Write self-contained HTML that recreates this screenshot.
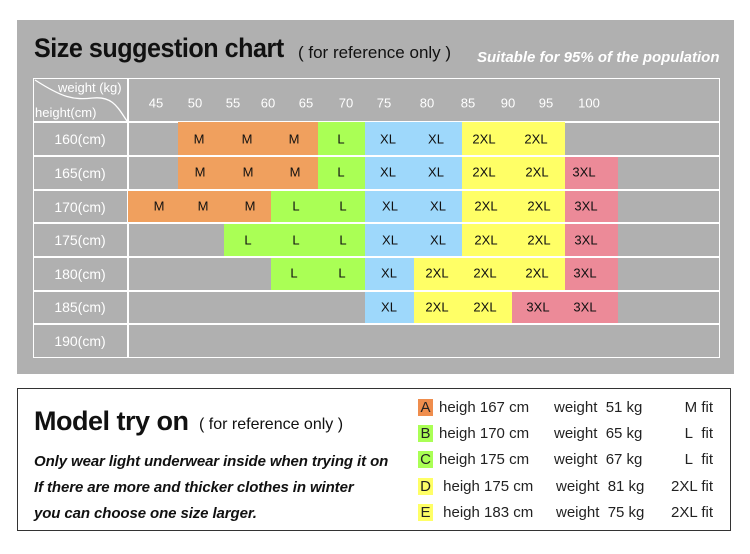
<!DOCTYPE html>
<html><head><style>
body{margin:0;width:750px;height:554px;background:#fff;position:relative;overflow:hidden;font-family:"Liberation Sans","DejaVu Sans",sans-serif}
.a{position:absolute}
.c{position:absolute;transform:translate(-50%,-50%);font-size:13px;color:#111;white-space:nowrap}
.w{color:#fff;font-size:13px}
.hl{position:absolute;left:33px;width:686px;height:1.5px;background:#fff}
.r{position:absolute;color:#fff;font-size:14px;width:94px;text-align:center;left:33px}
.L{position:absolute;font-size:15px;color:#222;white-space:nowrap}
.bx{display:inline-block;width:15px;height:17px;text-align:center;line-height:17px;margin-right:6px}
</style></head><body>
<div class="a" style="left:17px;top:20px;width:717px;height:354px;background:#b0b0b0"></div>
<div class="a" style="left:34px;top:33px;font-size:27px;font-weight:bold;color:#111;letter-spacing:-0.5px;transform:scaleX(0.93);transform-origin:0 0">Size suggestion chart</div>
<div class="a" style="left:298px;top:43px;font-size:17px;color:#111">( for reference only )</div>
<div class="a" style="left:477px;top:49px;font-size:15px;font-style:italic;font-weight:bold;color:#fff">Suitable for 95% of the population</div>
<div class="a" style="left:33px;top:78px;width:685px;height:278px;border:1.5px solid #fff"></div>
<div class="a" style="left:127px;top:78px;width:1.5px;height:280px;background:#fff"></div>
<div class="hl" style="top:121px"></div>
<svg class="a" style="left:33px;top:78px" width="95" height="44"><path d="M2 2 C30 20,40 22,60 20 S85 30,94 43" stroke="#fff" stroke-width="1.3" fill="none"/></svg>
<div class="a w" style="left:58px;top:80px">weight (kg)</div>
<div class="a w" style="left:35px;top:105px">height(cm)</div>
<div class="a" style="left:178px;top:122px;width:140px;height:67px;background:#f0a05e"></div>
<div class="a" style="left:128px;top:190px;width:143px;height:32px;background:#f0a05e"></div>
<div class="a" style="left:318px;top:122px;width:47px;height:67px;background:#aaff55"></div>
<div class="a" style="left:271px;top:190px;width:94px;height:32px;background:#aaff55"></div>
<div class="a" style="left:224px;top:223px;width:141px;height:33px;background:#aaff55"></div>
<div class="a" style="left:271px;top:257px;width:94px;height:33px;background:#aaff55"></div>
<div class="a" style="left:365px;top:122px;width:97px;height:134px;background:#9ed8fb"></div>
<div class="a" style="left:365px;top:257px;width:49px;height:66px;background:#9ed8fb"></div>
<div class="a" style="left:462px;top:122px;width:103px;height:134px;background:#ffff66"></div>
<div class="a" style="left:414px;top:257px;width:151px;height:33px;background:#ffff66"></div>
<div class="a" style="left:414px;top:291px;width:98px;height:32px;background:#ffff66"></div>
<div class="a" style="left:565px;top:156px;width:53px;height:134px;background:#ec8a98"></div>
<div class="a" style="left:512px;top:291px;width:106px;height:32px;background:#ec8a98"></div>
<div class="hl" style="top:155px"></div><div class="hl" style="top:189px"></div><div class="hl" style="top:222px"></div><div class="hl" style="top:256px"></div><div class="hl" style="top:290px"></div><div class="hl" style="top:323px"></div>
<div class="c w" style="left:156px;top:103px">45</div><div class="c w" style="left:195px;top:103px">50</div><div class="c w" style="left:233px;top:103px">55</div><div class="c w" style="left:268px;top:103px">60</div><div class="c w" style="left:306px;top:103px">65</div><div class="c w" style="left:346px;top:103px">70</div><div class="c w" style="left:384px;top:103px">75</div><div class="c w" style="left:427px;top:103px">80</div><div class="c w" style="left:468px;top:103px">85</div><div class="c w" style="left:508px;top:103px">90</div><div class="c w" style="left:546px;top:103px">95</div><div class="c w" style="left:589px;top:103px">100</div>
<div class="r" style="top:131px">160(cm)</div><div class="r" style="top:165px">165(cm)</div><div class="r" style="top:199px">170(cm)</div><div class="r" style="top:232px">175(cm)</div><div class="r" style="top:266px">180(cm)</div><div class="r" style="top:299px">185(cm)</div><div class="r" style="top:333px">190(cm)</div>
<div class="c" style="left:199px;top:139px">M</div><div class="c" style="left:247px;top:139px">M</div><div class="c" style="left:294px;top:139px">M</div><div class="c" style="left:341px;top:139px">L</div><div class="c" style="left:388px;top:139px">XL</div><div class="c" style="left:436px;top:139px">XL</div><div class="c" style="left:484px;top:139px">2XL</div><div class="c" style="left:536px;top:139px">2XL</div>
<div class="c" style="left:200px;top:172px">M</div><div class="c" style="left:248px;top:172px">M</div><div class="c" style="left:295px;top:172px">M</div><div class="c" style="left:341px;top:172px">L</div><div class="c" style="left:388px;top:172px">XL</div><div class="c" style="left:436px;top:172px">XL</div><div class="c" style="left:484px;top:172px">2XL</div><div class="c" style="left:537px;top:172px">2XL</div><div class="c" style="left:584px;top:172px">3XL</div>
<div class="c" style="left:159px;top:206px">M</div><div class="c" style="left:203px;top:206px">M</div><div class="c" style="left:250px;top:206px">M</div><div class="c" style="left:296px;top:206px">L</div><div class="c" style="left:343px;top:206px">L</div><div class="c" style="left:390px;top:206px">XL</div><div class="c" style="left:438px;top:206px">XL</div><div class="c" style="left:486px;top:206px">2XL</div><div class="c" style="left:539px;top:206px">2XL</div><div class="c" style="left:586px;top:206px">3XL</div>
<div class="c" style="left:248px;top:240px">L</div><div class="c" style="left:296px;top:240px">L</div><div class="c" style="left:343px;top:240px">L</div><div class="c" style="left:390px;top:240px">XL</div><div class="c" style="left:438px;top:240px">XL</div><div class="c" style="left:486px;top:240px">2XL</div><div class="c" style="left:539px;top:240px">2XL</div><div class="c" style="left:586px;top:240px">3XL</div>
<div class="c" style="left:294px;top:273px">L</div><div class="c" style="left:342px;top:273px">L</div><div class="c" style="left:389px;top:273px">XL</div><div class="c" style="left:437px;top:273px">2XL</div><div class="c" style="left:485px;top:273px">2XL</div><div class="c" style="left:537px;top:273px">2XL</div><div class="c" style="left:585px;top:273px">3XL</div>
<div class="c" style="left:389px;top:307px">XL</div><div class="c" style="left:437px;top:307px">2XL</div><div class="c" style="left:485px;top:307px">2XL</div><div class="c" style="left:538px;top:307px">3XL</div><div class="c" style="left:585px;top:307px">3XL</div>
<div class="a" style="left:17px;top:388px;width:714px;height:143px;border:1.5px solid #333;box-sizing:border-box"></div>
<div class="a" style="left:34px;top:406px;font-size:27px;font-weight:bold;color:#111;letter-spacing:-0.5px">Model try on</div>
<div class="a" style="left:199px;top:416px;font-size:16px;color:#111">( for reference only )</div>
<div class="a" style="left:34px;top:449px;font-size:15px;font-style:italic;font-weight:bold;color:#111;line-height:26px;letter-spacing:-0.1px">Only wear light underwear inside when trying it on<br>If there are more and thicker clothes in winter<br>you can choose one size larger.</div>
<div class="L" style="left:418px;top:399px"><span class="bx" style="background:#ef8d4d">A</span>heigh 167 cm</div>
<div class="L" style="left:418px;top:425px"><span class="bx" style="background:#aaff55">B</span>heigh 170 cm</div>
<div class="L" style="left:418px;top:451px"><span class="bx" style="background:#aaff55">C</span>heigh 175 cm</div>
<div class="L" style="left:418px;top:478px"><span class="bx" style="background:#ffff66">D</span> heigh 175 cm</div>
<div class="L" style="left:418px;top:504px"><span class="bx" style="background:#ffff66">E</span> heigh 183 cm</div>
<div class="L" style="left:554px;top:399px">weight&nbsp; 51 kg</div>
<div class="L" style="left:554px;top:425px">weight&nbsp; 65 kg</div>
<div class="L" style="left:554px;top:451px">weight&nbsp; 67 kg</div>
<div class="L" style="left:556px;top:478px">weight&nbsp; 81 kg</div>
<div class="L" style="left:556px;top:504px">weight&nbsp; 75 kg</div>
<div class="L" style="right:37px;top:399px">M fit</div>
<div class="L" style="right:37px;top:425px">L&nbsp; fit</div>
<div class="L" style="right:37px;top:451px">L&nbsp; fit</div>
<div class="L" style="right:37px;top:478px">2XL fit</div>
<div class="L" style="right:37px;top:504px">2XL fit</div>
</body></html>
